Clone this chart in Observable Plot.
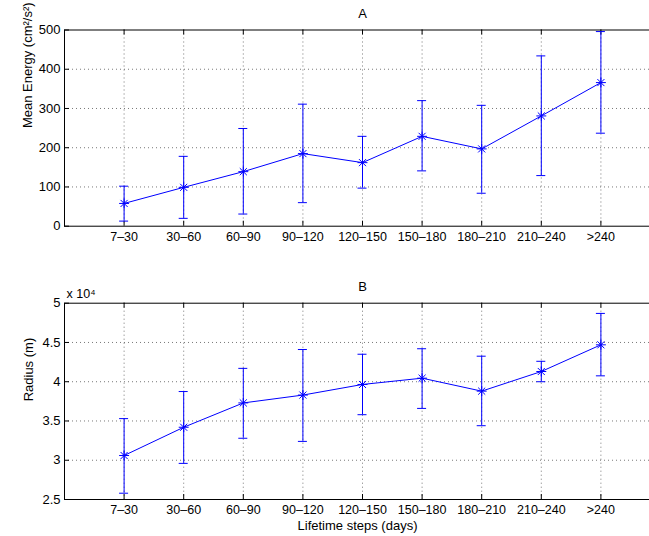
<!DOCTYPE html>
<html><head><meta charset="utf-8">
<script src="https://cdn.jsdelivr.net/npm/d3@7"></script>
<script src="https://cdn.jsdelivr.net/npm/@observablehq/plot@0.6"></script>
<style>
body{margin:0;background:#fff;}
#chart{width:649px;height:536px;overflow:hidden;font-family:"Liberation Sans",Arial,sans-serif;}
#chart svg{display:block;}
</style></head><body><div id="chart"></div>
<script>
const categories = ["7–30","30–60","60–90","90–120","120–150","150–180","180–210","210–240",">240"];
const energyMean = [58, 99, 139, 185, 162, 229, 197, 281, 366];
const energyLow  = [13, 20, 31, 60, 97, 141, 84, 129, 237];
const energyHigh = [102, 178, 249, 311, 229, 320, 308, 434, 496];
const radiusMean = [30600, 34200, 37300, 38300, 39650, 40450, 38800, 41300, 44700];
const radiusLow  = [25800, 29600, 32800, 32400, 35800, 36600, 34400, 40000, 40750];
const radiusHigh = [35300, 38750, 41700, 44100, 43500, 44200, 43250, 42600, 48700];
const energyTicks = [0, 100, 200, 300, 400, 500];
const radiusTicks = [25000, 30000, 35000, 40000, 45000, 50000];

const BLUE = "#0000ff";
const GRID = "#555";

function panel(o) {
  const rows = categories.map((c, i) => ({pos: i + 1, cat: c, mean: o.mean[i], low: o.low[i], high: o.high[i]}));
  const positions = rows.map(r => r.pos);
  const lo = o.ticks[0], hi = o.ticks[o.ticks.length - 1];
  const marks = [
    Plot.ruleX(rows, {x: "pos", stroke: GRID, strokeDasharray: "1,3", strokeWidth: 0.8}),
    Plot.ruleY(o.ticks.slice(1, -1), {y: d => d, stroke: GRID, strokeDasharray: "1,3", strokeWidth: 0.8}),
    Plot.frame({stroke: "#000", strokeWidth: 1}),
    Plot.ruleX(rows, {x: "pos", y1: lo, y2: lo, insetTop: -5, stroke: "#000"}),
    Plot.ruleX(rows, {x: "pos", y1: hi, y2: hi, insetBottom: -5, stroke: "#000"}),
    Plot.ruleY(o.ticks, {y: d => d, x1: 0, x2: 0, insetRight: -5, stroke: "#000"}),
    Plot.axisX(positions, {tickSize: 0, tickPadding: 6, tickFormat: p => categories[p - 1], label: null, fill: "#000", fontSize: 12.5}),
    Plot.axisY(o.ticks, {tickSize: 0, tickPadding: 4, tickFormat: o.tickFormat, label: null, fill: "#000", fontSize: 13}),
    Plot.ruleX(rows, {x: "pos", y1: "low", y2: "high", stroke: BLUE, strokeWidth: 1}),
    Plot.ruleY(rows, {x1: "pos", x2: "pos", y: "low", insetLeft: -4.5, insetRight: -4.5, stroke: BLUE}),
    Plot.ruleY(rows, {x1: "pos", x2: "pos", y: "high", insetLeft: -4.5, insetRight: -4.5, stroke: BLUE}),
    Plot.line(rows, {x: "pos", y: "mean", stroke: BLUE, strokeWidth: 1}),
    Plot.dot(rows, {x: "pos", y: "mean", symbol: "plus", r: 3.3, stroke: BLUE, strokeWidth: 1}),
    Plot.dot(rows, {x: "pos", y: "mean", symbol: "times", r: 3.3, stroke: BLUE, strokeWidth: 1}),
    Plot.text([o.title], {frameAnchor: "top", lineAnchor: "middle", dy: -16.5, fontSize: 13, fill: "#000"}),
    Plot.text([o.ylabel], {frameAnchor: "left", dx: o.ylabelDx, rotate: -90, fontSize: 13, fill: "#000"})
  ];
  if (o.extra) marks.push(...o.extra);
  return Plot.plot({
    width: 649,
    height: o.height,
    marginLeft: 64,
    marginRight: -11,
    marginTop: o.marginTop,
    marginBottom: o.marginBottom,
    style: {fontFamily: '"Liberation Sans", Arial, sans-serif', fontSize: "12.5px", background: "#fff", color: "#000", overflow: "hidden"},
    x: {type: "linear", domain: [0, 10], axis: null},
    y: {type: "linear", domain: [lo, hi], axis: null},
    marks
  });
}

const chart = document.getElementById("chart");
chart.appendChild(panel({
  title: "A", mean: energyMean, low: energyLow, high: energyHigh,
  ticks: energyTicks, tickFormat: d => String(d),
  ylabel: "Mean Energy (cm²/s²)", ylabelDx: -37,
  height: 268, marginTop: 29.5, marginBottom: 42.3
}));
chart.appendChild(panel({
  title: "B", mean: radiusMean, low: radiusLow, high: radiusHigh,
  ticks: radiusTicks, tickFormat: d => String(d / 1e4),
  ylabel: "Radius (m)", ylabelDx: -36,
  height: 268, marginTop: 34.7, marginBottom: 37,
  extra: [
    Plot.text(["x 10⁴"], {frameAnchor: "top-left", lineAnchor: "middle", dx: 2, dy: -9, textAnchor: "start", fontSize: 12.5, fill: "#000"}),
    Plot.text(["Lifetime steps (days)"], {frameAnchor: "bottom", lineAnchor: "middle", dx: -5, dy: 26, fontSize: 13, fill: "#000"})
  ]
}));
</script></body></html>
